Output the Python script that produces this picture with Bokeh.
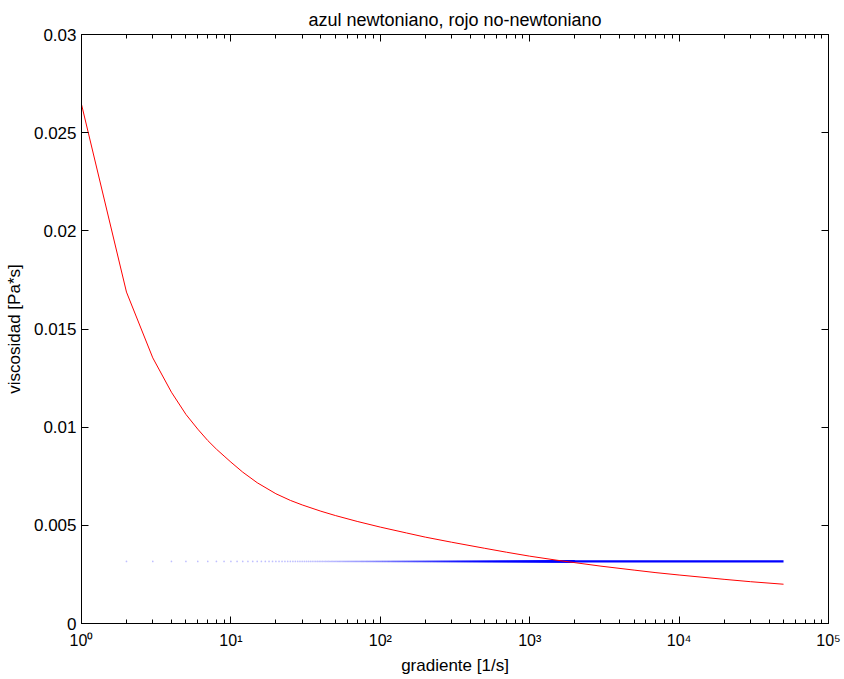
import numpy as np
from bokeh.plotting import figure
from bokeh.models import LogAxis, LinearAxis, FixedTicker, Range1d
from bokeh.embed import file_html
from bokeh.resources import INLINE

# ---- data ----
title_text = "azul newtoniano, rojo no-newtoniano"
x_label = "gradiente [1/s]"
y_label = "viscosidad [Pa*s]"

# non-Newtonian fluid (red)
gradiente_nn = [1, 2, 3, 4, 5, 6, 7, 8, 9, 10, 12, 15, 20, 25, 30, 40, 50, 70, 100, 150,
                200, 300, 500, 700, 1000, 1500, 2000, 3000, 5000, 7000, 10000, 20000,
                30000, 50000]
viscosidad_nn = [0.02644, 0.01688, 0.01353, 0.01178, 0.01065, 0.00990, 0.00932, 0.00888,
                 0.00853, 0.00822, 0.00771, 0.00717, 0.00661, 0.00627, 0.00604, 0.00572,
                 0.00550, 0.00520, 0.00491, 0.00461, 0.00440, 0.00414, 0.00383, 0.00363,
                 0.00343, 0.00323, 0.00310, 0.00292, 0.00272, 0.00259, 0.00247, 0.00225,
                 0.00213, 0.00200]

# Newtonian fluid (blue): constant viscosity sampled at integer shear rates
viscosidad_newt = 0.00316
gradiente_dots = np.arange(2, 2001)          # sparse dotted part
gradiente_line = [2000, 50000]               # dense part, drawn as a solid line

x_ticks = [1, 10, 100, 1000, 10000, 100000]
x_tick_labels = ["10\u2070", "10\u00b9", "10\u00b2", "10\u00b3", "10\u2074", "10\u2075"]
x_minor = [m * d for d in [1, 10, 100, 1000, 10000] for m in range(2, 10)]
y_ticks = [0, 0.005, 0.01, 0.015, 0.02, 0.025, 0.03]
y_tick_labels = ["0", "0.005", "0.01", "0.015", "0.02", "0.025", "0.03"]

FONT = "Liberation Sans"

p = figure(width=844, height=679, x_axis_type="log",
           x_range=Range1d(1, 1e5), y_range=Range1d(0, 0.03),
           output_backend="svg", toolbar_location=None,
           min_border_left=81, min_border_right=16, min_border_top=34, min_border_bottom=56)

p.title.text = title_text
p.title.align = "center"
p.title.text_font = FONT
p.title.text_font_size = "18px"
p.title.text_font_style = "normal"
p.title.text_color = "black"
p.title.standoff = 10

p.xgrid.visible = False
p.ygrid.visible = False
p.outline_line_color = "black"
p.outline_line_width = 1
p.background_fill_color = "white"
p.border_fill_color = "white"

xt = FixedTicker(ticks=x_ticks, minor_ticks=x_minor)
yt = FixedTicker(ticks=y_ticks, minor_ticks=[])

def style_axis(ax, fs="17px", labels=True):
    ax.major_tick_in = 7
    ax.major_tick_out = 0
    ax.minor_tick_in = 4
    ax.minor_tick_out = 0
    ax.axis_line_color = "black"
    ax.major_tick_line_color = "black"
    ax.minor_tick_line_color = "black"
    ax.major_label_text_font = FONT
    ax.major_label_text_font_size = fs
    ax.major_label_text_color = "black"
    ax.axis_label_text_font = FONT
    ax.axis_label_text_font_size = "17px"
    ax.axis_label_text_font_style = "normal"
    ax.axis_label_text_color = "black"
    if not labels:
        ax.major_label_text_font_size = "1px"
        ax.major_label_text_color = None
        ax.major_label_standoff = 0

xa = p.xaxis[0]
xa.ticker = xt
xa.major_label_overrides = {t: l for t, l in zip(x_ticks, x_tick_labels)}
xa.axis_label = x_label
style_axis(xa, fs="16px")
xa.major_label_standoff = 8
xa.axis_label_standoff = 4

ya = p.yaxis[0]
ya.ticker = yt
ya.major_label_overrides = {t: l for t, l in zip(y_ticks, y_tick_labels)}
ya.axis_label = y_label
style_axis(ya, fs="17px")
ya.major_label_standoff = 5
ya.axis_label_standoff = 7

top = LogAxis(ticker=FixedTicker(ticks=x_ticks, minor_ticks=x_minor))
style_axis(top, labels=False)
p.add_layout(top, "above")

right = LinearAxis(ticker=FixedTicker(ticks=y_ticks, minor_ticks=[]))
style_axis(right, labels=False)
p.add_layout(right, "right")

# Newtonian (blue): dotted points that merge into a solid line
p.scatter(gradiente_dots, [viscosidad_newt] * len(gradiente_dots), marker="circle",
          size=1.7, fill_color="blue", line_color=None, fill_alpha=0.25)
p.line(gradiente_line, [viscosidad_newt] * len(gradiente_line), line_color="blue", line_width=2.2)

# non-Newtonian (red)
p.line(gradiente_nn, viscosidad_nn, line_color="red", line_width=1)

open("out.html", "w").write(file_html(p, INLINE))
